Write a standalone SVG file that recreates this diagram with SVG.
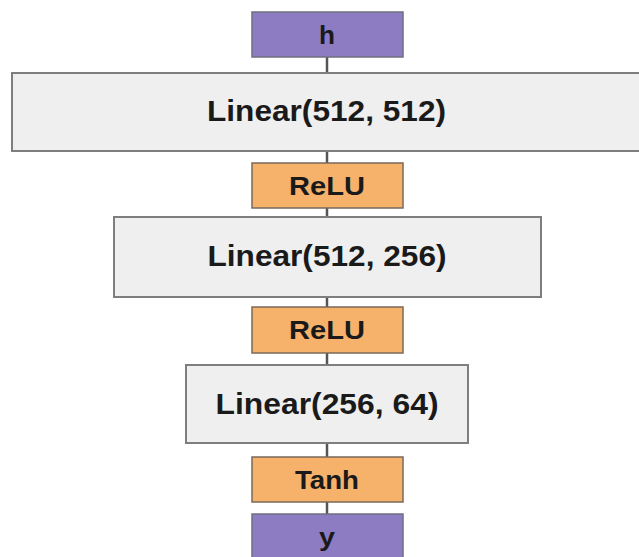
<svg xmlns="http://www.w3.org/2000/svg" width="639" height="557" viewBox="0 0 639 557">
  <style>
    .io { fill: #8E7CC3; stroke: #6f6f80; stroke-width: 1.5; }
    .act { fill: #F6B26B; stroke: #7a6a5a; stroke-width: 1.5; }
    .lin { fill: #EFEFEF; stroke: #7e7e7e; stroke-width: 2; }
    .conn { stroke: #555555; stroke-width: 2.5; fill: none; }
    text { font-family: "Liberation Sans", Arial, sans-serif; font-weight: bold; fill: #1a1a1a; text-anchor: middle; }
    .big { font-size: 29.5px; }
    .small { font-size: 26px; }
  </style>
  <rect width="639" height="557" fill="#ffffff"/>
  <g id="connectors">
    <line class="conn" x1="327" y1="57" x2="327" y2="73"/>
    <line class="conn" x1="327" y1="151" x2="327" y2="163"/>
    <line class="conn" x1="327" y1="208" x2="327" y2="217"/>
    <line class="conn" x1="327" y1="297" x2="327" y2="307"/>
    <line class="conn" x1="327" y1="353" x2="327" y2="365"/>
    <line class="conn" x1="327" y1="443" x2="327" y2="457"/>
    <line class="conn" x1="327" y1="502" x2="327" y2="514"/>
  </g>
  <g id="node-h">
    <rect class="io" x="252" y="12" width="151" height="45"/>
    <text class="small" x="327" y="44" textLength="16" lengthAdjust="spacingAndGlyphs">h</text>
  </g>
  <g id="node-linear1">
    <rect class="lin" x="12" y="73" width="631" height="78"/>
    <text class="big" x="326.5" y="121" textLength="239" lengthAdjust="spacingAndGlyphs">Linear(512, 512)</text>
  </g>
  <g id="node-relu1">
    <rect class="act" x="252" y="163" width="151" height="45"/>
    <text class="small" x="327" y="195" textLength="76" lengthAdjust="spacingAndGlyphs">ReLU</text>
  </g>
  <g id="node-linear2">
    <rect class="lin" x="114" y="217" width="427" height="80"/>
    <text class="big" x="327" y="266" textLength="239" lengthAdjust="spacingAndGlyphs">Linear(512, 256)</text>
  </g>
  <g id="node-relu2">
    <rect class="act" x="252" y="307" width="151" height="46"/>
    <text class="small" x="327" y="339" textLength="76" lengthAdjust="spacingAndGlyphs">ReLU</text>
  </g>
  <g id="node-linear3">
    <rect class="lin" x="186" y="365" width="282" height="78"/>
    <text class="big" x="327" y="414" textLength="223" lengthAdjust="spacingAndGlyphs">Linear(256, 64)</text>
  </g>
  <g id="node-tanh">
    <rect class="act" x="252" y="457" width="151" height="45"/>
    <text class="small" x="327" y="489" textLength="64" lengthAdjust="spacingAndGlyphs">Tanh</text>
  </g>
  <g id="node-y">
    <rect class="io" x="252" y="514" width="151" height="46"/>
    <text class="small" x="327" y="546" textLength="16" lengthAdjust="spacingAndGlyphs">y</text>
  </g>
</svg>
